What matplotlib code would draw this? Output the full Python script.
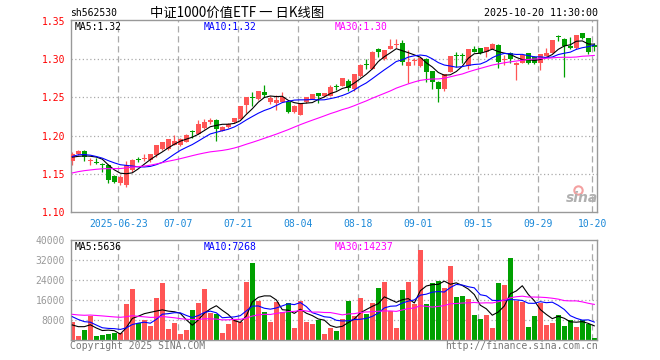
import numpy as np
import matplotlib
matplotlib.use("Agg")
import matplotlib.pyplot as plt

# ---------------- data ----------------
opens = [1.1667, 1.1763, 1.1798, 1.1668, 1.1652, 1.1625, 1.1610, 1.1469, 1.1377, 1.1346,
         1.1544, 1.1688, 1.1690, 1.1675, 1.1741, 1.1829, 1.1820, 1.1873, 1.1873, 1.1917,
         1.2050, 1.2018, 1.2100, 1.2175, 1.2210, 1.2066, 1.2110, 1.2175, 1.2220, 1.2395,
         1.2510, 1.2482, 1.2570, 1.2443, 1.2430, 1.2443, 1.2443, 1.2311, 1.2275, 1.2439,
         1.2482, 1.2557, 1.2518, 1.2520, 1.2640, 1.2650, 1.2715, 1.2610, 1.2785, 1.2938,
         1.2873, 1.3136, 1.3004, 1.3136, 1.3190, 1.3210, 1.2917, 1.2975, 1.2912, 1.3004,
         1.2846, 1.2706, 1.2610, 1.2838, 1.3055, 1.3052, 1.2910, 1.3136, 1.3145, 1.3092,
         1.3136, 1.3189, 1.2995, 1.3079, 1.2925, 1.2956, 1.3079, 1.3035, 1.2956, 1.3048,
         1.3088, 1.3300, 1.3268, 1.3175, 1.3145, 1.3342, 1.3276, 1.3189]
highs = [1.1790, 1.1810, 1.1810, 1.1710, 1.1700, 1.1640, 1.1620, 1.1480, 1.1480, 1.1670,
         1.1690, 1.1720, 1.1760, 1.1760, 1.1870, 1.1920, 1.1960, 1.2004, 1.1970, 1.2015,
         1.2070, 1.2200, 1.2220, 1.2225, 1.2220, 1.2125, 1.2165, 1.2232, 1.2390, 1.2510,
         1.2570, 1.2585, 1.2660, 1.2518, 1.2531, 1.2575, 1.2460, 1.2395, 1.2421, 1.2510,
         1.2545, 1.2560, 1.2565, 1.2660, 1.2675, 1.2760, 1.2740, 1.2810, 1.2935, 1.3000,
         1.3110, 1.3145, 1.3125, 1.3268, 1.3268, 1.3254, 1.3123, 1.3013, 1.3025, 1.3013,
         1.2850, 1.2710, 1.2810, 1.3050, 1.3100, 1.3080, 1.3135, 1.3175, 1.3150, 1.3160,
         1.3210, 1.3202, 1.3057, 1.3092, 1.2970, 1.3070, 1.3079, 1.3040, 1.3070, 1.3145,
         1.3260, 1.3320, 1.3276, 1.3298, 1.3325, 1.3345, 1.3280, 1.3210]
lows = [1.1610, 1.1740, 1.1660, 1.1610, 1.1620, 1.1520, 1.1377, 1.1380, 1.1346, 1.1320,
        1.1520, 1.1650, 1.1660, 1.1650, 1.1720, 1.1810, 1.1810, 1.1870, 1.1860, 1.1910,
        1.1970, 1.2015, 1.2090, 1.2150, 1.1930, 1.2060, 1.2105, 1.2170, 1.2215, 1.2300,
        1.2386, 1.2470, 1.2510, 1.2412, 1.2333, 1.2440, 1.2298, 1.2300, 1.2267, 1.2425,
        1.2475, 1.2430, 1.2505, 1.2515, 1.2596, 1.2645, 1.2580, 1.2580, 1.2772, 1.2870,
        1.2870, 1.3035, 1.2995, 1.3130, 1.3145, 1.2925, 1.2684, 1.2925, 1.2905, 1.2706,
        1.2610, 1.2443, 1.2590, 1.2830, 1.2904, 1.2947, 1.2870, 1.3092, 1.3070, 1.3035,
        1.3130, 1.2882, 1.2925, 1.2947, 1.2728, 1.2950, 1.2940, 1.2940, 1.2860, 1.3048,
        1.3080, 1.3246, 1.2763, 1.3140, 1.3140, 1.3270, 1.3070, 1.3114]
closes = [1.1754, 1.1798, 1.1712, 1.1678, 1.1645, 1.1615, 1.1421, 1.1390, 1.1456, 1.1610,
          1.1675, 1.1684, 1.1697, 1.1754, 1.1873, 1.1917, 1.1952, 1.1930, 1.1960, 1.2004,
          1.2045, 1.2145, 1.2175, 1.2210, 1.2090, 1.2118, 1.2150, 1.2228, 1.2386, 1.2504,
          1.2490, 1.2580, 1.2535, 1.2487, 1.2465, 1.2509, 1.2311, 1.2386, 1.2421, 1.2504,
          1.2540, 1.2518, 1.2552, 1.2640, 1.2632, 1.2750, 1.2618, 1.2807, 1.2920, 1.2930,
          1.3100, 1.3101, 1.3123, 1.3175, 1.3200, 1.2970, 1.2970, 1.2982, 1.3020, 1.2830,
          1.2697, 1.2610, 1.2803, 1.3048, 1.3045, 1.3045, 1.3132, 1.3101, 1.3079, 1.3158,
          1.3202, 1.2969, 1.3000, 1.3004, 1.2956, 1.3057, 1.2956, 1.2956, 1.3066, 1.3088,
          1.3254, 1.3296, 1.3175, 1.3145, 1.3320, 1.3276, 1.3092, 1.3167]
volumes = [7067, 1600, 4000, 9733, 1600, 2000, 2400, 2933, 2933, 14400,
           20400, 6933, 8000, 5600, 16933, 22800, 4400, 6800, 2400, 4000,
           12000, 14800, 20400, 10933, 10400, 2800, 6400, 8267, 7333, 23200,
           30800, 15733, 11200, 7200, 15200, 11200, 14800, 4800, 15600, 7200,
           6400, 8000, 2533, 4800, 3600, 8400, 15600, 9600, 16933, 10400,
           14800, 20933, 23200, 11600, 4800, 20000, 23200, 14400, 36000, 14400,
           22800, 23600, 20933, 29733, 17200, 17600, 16400, 10000, 8400, 10000,
           4800, 22800, 22000, 32800, 15733, 15200, 5333, 9600, 15000, 6000,
           6800, 10000, 5600, 8000, 5200, 8000, 6400, 700]

# sessions before the visible window (only feed the moving averages)
prior_closes = [1.128, 1.133, 1.140, 1.138, 1.142, 1.136, 1.139, 1.141, 1.136, 1.140,
                1.145, 1.148, 1.142, 1.140, 1.138, 1.140, 1.145, 1.143, 1.142, 1.145,
                1.158, 1.168, 1.176, 1.182, 1.183, 1.175, 1.168, 1.170, 1.170]
prior_volumes = [9000, 8000, 7000, 6500, 7500, 8500, 9000, 7000, 8000, 7500,
                 15000, 14000, 12000, 16000, 13000, 12500, 14000, 13000, 11500, 15670,
                 13000, 12500, 12000, 13000, 12763, 5000, 4000, 6000, 8000]

tick_index = [8, 18, 28, 38, 48, 58, 68, 78, 87]
tick_labels = ["2025-06-23", "07-07", "07-21", "08-04", "08-18", "09-01", "09-15", "09-29", "10-20"]
price_ticks = [1.10, 1.15, 1.20, 1.25, 1.30, 1.35]
volume_ticks = [8000, 16000, 24000, 32000, 40000]
ma_periods = [5, 10, 30]
price_ma_labels = ["1.32", "1.32", "1.30"]
volume_ma_labels = ["5636", "7268", "14237"]
symbol = "sh562530"
title = "中证1000价值ETF 一 日K线图"
timestamp = "2025-10-20 11:30:00"

# ---------------- style ----------------
W, H = 660, 360
RED, GREEN = "#FF5555", "#00A000"
MA_COLORS = ["#000000", "#0000FF", "#FF00FF"]
GRID = "#AAAAAA"
FRAME = "#999999"
XLAB = "#1A88D8"
MONO = "DejaVu Sans Mono"

def fx(px):
    return px / W

def fy(py):
    return 1 - py / H

o = np.array(opens); h = np.array(highs); l = np.array(lows); c = np.array(closes)
v = np.array(volumes, dtype=float)
n = len(c)
idx = np.arange(n)
up = c >= o
cols = np.where(up, RED, GREEN)

all_c = np.concatenate([prior_closes, c])
all_v = np.concatenate([prior_volumes, v])
k0 = len(prior_closes)

def sma(arr, p):
    out = np.convolve(arr, np.ones(p) / p, mode="valid")
    return out[k0 - (p - 1):]

fig = plt.figure(figsize=(W / 100, H / 100), dpi=100)
left, right = 70.7, 597.3
ax = fig.add_axes([fx(left), fy(211.7), fx(right - left), (211.7 - 20) / H])
axv = fig.add_axes([fx(left), fy(340), fx(right - left), (340 - 240) / H])

xlim = (-0.27, 87.5)
for a in (ax, axv):
    a.set_xlim(*xlim)
    for s in a.spines.values():
        s.set_color(FRAME)
        s.set_linewidth(1.0)
    a.tick_params(length=0)
    for t in tick_index:
        a.axvline(t - 0.33, color=GRID, lw=0.9, ls=(0, (5, 3)), zorder=0)

ax.set_ylim(1.10, 1.3517)
axv.set_ylim(0, 40000)

for p in price_ticks[1:-1]:
    ax.axhline(p, color=GRID, lw=0.9, ls=(0, (1, 2)), zorder=0)
for p in volume_ticks[:-1]:
    axv.axhline(p, color=GRID, lw=0.9, ls=(0, (1, 2)), zorder=0)

# candles
bw = 0.8
ax.vlines(idx, l, h, colors=cols, lw=0.9, zorder=2)
body_lo = np.minimum(o, c)
body_h = np.maximum(np.abs(c - o), 0.0013)
ax.bar(idx, body_h, bottom=body_lo, width=bw, color=cols, lw=0, zorder=3)

for p, col in zip(ma_periods, MA_COLORS):
    ax.plot(idx, sma(all_c, p), color=col, lw=0.8, zorder=4)

# volume
axv.bar(idx, v, width=bw, color=cols, lw=0, zorder=2)
for p, col in zip(ma_periods, MA_COLORS):
    axv.plot(idx, sma(all_v, p), color=col, lw=0.8, zorder=4)

# axis labels
ax.set_yticks(price_ticks)
ax.set_yticklabels([f"{t:.2f}" for t in price_ticks], color="#FF0000",
                   fontsize=7, family=MONO)
ax.yaxis.set_tick_params(pad=4)
ax.set_xticks([t - 0.33 for t in tick_index])
ax.set_xticklabels(tick_labels, color=XLAB, fontsize=7, family=MONO)
ax.xaxis.set_tick_params(pad=5)

axv.set_yticks(volume_ticks)
axv.set_yticklabels([str(t) for t in volume_ticks], color="#999999",
                    fontsize=7, family=MONO)
axv.yaxis.set_tick_params(pad=4)
axv.set_xticks([])

# header / legends
fig.text(fx(70), fy(13.5), symbol, fontsize=7, family=MONO, va="center", ha="left")
fig.text(fx(150), fy(12.5), title, fontsize=9.6,
         family=["Noto Sans CJK SC", "DejaVu Sans"], va="center", ha="left")
fig.text(fx(597.5), fy(13.5), timestamp, fontsize=7.2, family=MONO, va="center", ha="right")

leg_x = [75, 204, 335]
for i, p in enumerate(ma_periods):
    fig.text(fx(leg_x[i]), fy(27), f"MA{p}:{price_ma_labels[i]}", fontsize=7,
             family=MONO, color=MA_COLORS[i], va="center", ha="left")
    fig.text(fx(leg_x[i]), fy(247), f"MA{p}:{volume_ma_labels[i]}", fontsize=7,
             family=MONO, color=MA_COLORS[i], va="center", ha="left")

fig.text(fx(70), fy(346), "Copyright 2025 SINA.COM", fontsize=7, family=MONO,
         color="#777777", va="center", ha="left")
fig.text(fx(597.5), fy(346), "http://finance.sina.com.cn", fontsize=7, family=MONO,
         color="#777777", va="center", ha="right")

# sina watermark
fig.text(fx(582), fy(198), "sina", fontsize=10, style="italic", weight="bold",
         color="#B0B0B0", va="center", ha="center", family="DejaVu Sans")
fig.lines.append(plt.Line2D([fx(578)], [fy(190)], marker="o", ms=6, mfc="none",
                            mec="#F4A0A0", mew=1.5, transform=fig.transFigure))

fig.savefig("out.png", dpi=100)
